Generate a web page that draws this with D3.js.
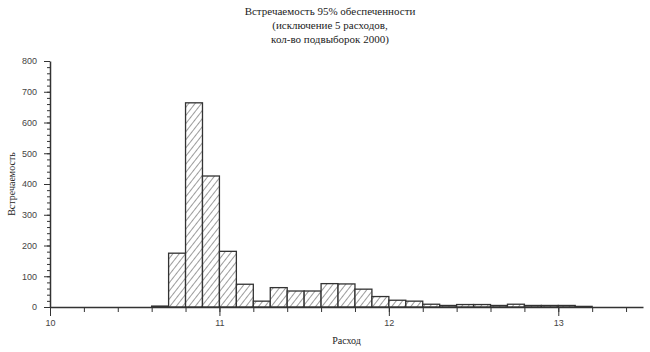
<!DOCTYPE html>
<html>
<head>
<meta charset="utf-8">
<script src="https://cdn.jsdelivr.net/npm/d3@7"></script>
<style>
  body { margin: 0; background: #fff; }
  .axis text { font-family: Arial, "Liberation Sans", sans-serif; font-size: 9px; fill: #444; }
  .axis path, .axis line { stroke: #333; }
  .ttl { font-family: "Liberation Serif", "Times New Roman", serif; font-size: 11px; fill: #222; }
</style>
</head>
<body>
<svg id="chart"></svg>
<script>
// bin starts (width 0.1) and counts
const binStart = [10.0, 10.1, 10.2, 10.3, 10.4, 10.5, 10.6, 10.7, 10.8, 10.9,
                  11.0, 11.1, 11.2, 11.3, 11.4, 11.5, 11.6, 11.7, 11.8, 11.9,
                  12.0, 12.1, 12.2, 12.3, 12.4, 12.5, 12.6, 12.7, 12.8, 12.9,
                  13.0, 13.1, 13.2, 13.3, 13.4];
const counts = [0, 0, 0, 0, 0, 0, 3, 175, 664, 426,
                181, 74, 19, 63, 52, 52, 76, 75, 58, 34,
                22, 19, 9, 5, 8, 8, 5, 9, 5, 5,
                5, 2, 0, 0, 0];
const binWidth = 0.1;
const xTicks = [10, 11, 12, 13];
const yTicks = [0, 100, 200, 300, 400, 500, 600, 700, 800];
const titleLines = ['Встречаемость 95% обеспеченности', '(исключение 5 расходов,', 'кол-во подвыборок 2000)'];

class Histogram {
  constructor(_config, _data) {
    this.config = {
      parentElement: _config.parentElement,
      containerWidth: _config.containerWidth || 650,
      containerHeight: _config.containerHeight || 352,
      margin: { top: 61, bottom: 45, right: 7, left: 50 }
    };
    this.data = _data;
    this.initVis();
  }

  initVis() {
    let vis = this;
    vis.width = vis.config.containerWidth - vis.config.margin.left - vis.config.margin.right;
    vis.height = vis.config.containerHeight - vis.config.margin.top - vis.config.margin.bottom;

    vis.svg = d3.select(vis.config.parentElement)
      .attr('width', vis.config.containerWidth)
      .attr('height', vis.config.containerHeight);

    // hatch fill
    const pat = vis.svg.append('defs').append('pattern')
      .attr('id', 'hatch')
      .attr('patternUnits', 'userSpaceOnUse')
      .attr('width', 5).attr('height', 5)
      .attr('patternTransform', 'rotate(38)');
    pat.append('rect').attr('width', 5).attr('height', 5).attr('fill', '#fff');
    pat.append('line')
      .attr('x1', 0).attr('y1', 0).attr('x2', 0).attr('y2', 5)
      .attr('stroke', '#222').attr('stroke-width', 0.9);

    vis.chart = vis.svg.append('g')
      .attr('transform', `translate(${vis.config.margin.left},${vis.config.margin.top})`);

    vis.xScale = d3.scaleLinear().domain([10, 13.5]).range([0, vis.width]);
    vis.yScale = d3.scaleLinear().domain([0, 800]).range([vis.height, 0]);

    vis.updateVis();
  }

  updateVis() {
    let vis = this;

    // bars
    vis.chart.selectAll('.bar')
      .data(vis.data)
      .join('rect')
      .attr('class', 'bar')
      .attr('x', d => vis.xScale(d.x0))
      .attr('y', d => vis.yScale(d.count))
      .attr('width', d => vis.xScale(d.x0 + binWidth) - vis.xScale(d.x0))
      .attr('height', d => vis.yScale(0) - vis.yScale(d.count))
      .attr('fill', 'url(#hatch)')
      .attr('stroke', '#333')
      .attr('stroke-width', 1.3);

    // y axis minor + major
    vis.chart.append('g')
      .attr('class', 'axis')
      .call(d3.axisLeft(vis.yScale).tickValues(d3.range(0, 801, 20)).tickSize(3).tickFormat(''))
      .call(g => g.select('.domain').remove());
    vis.chart.append('g')
      .attr('class', 'axis')
      .call(d3.axisLeft(vis.yScale).tickValues(yTicks).tickSize(6).tickSizeOuter(0).tickPadding(7))
      .call(g => g.select('.domain').attr('stroke-width', 1.5));

    // x axis minor + major
    vis.chart.append('g')
      .attr('class', 'axis')
      .attr('transform', `translate(0,${vis.height})`)
      .call(d3.axisBottom(vis.xScale).tickValues(d3.range(10, 13.5, 0.2)).tickSize(5).tickFormat(''))
      .call(g => g.select('.domain').remove());
    vis.chart.append('g')
      .attr('class', 'axis')
      .attr('transform', `translate(0,${vis.height})`)
      .call(d3.axisBottom(vis.xScale).tickValues(xTicks).tickSize(9).tickSizeOuter(0).tickPadding(4)
        .tickFormat(d3.format('d')))
      .call(g => g.select('.domain').attr('stroke-width', 1.5));

    // titles
    vis.svg.append('text')
      .attr('class', 'ttl')
      .attr('text-anchor', 'middle')
      .selectAll('tspan')
      .data(titleLines)
      .join('tspan')
      .attr('x', 330)
      .attr('y', (d, i) => 15 + i * 14)
      .text(d => d);

    vis.svg.append('text')
      .attr('class', 'ttl')
      .attr('text-anchor', 'middle')
      .attr('x', vis.config.margin.left + vis.xScale(11.75))
      .attr('y', 344)
      .style('font-size', '10px')
      .text('Расход');

    vis.svg.append('text')
      .attr('class', 'ttl')
      .attr('text-anchor', 'middle')
      .attr('transform', `translate(15,${vis.config.margin.top + vis.yScale(400)}) rotate(-90)`)
      .style('font-size', '10px')
      .text('Встречаемость');
  }
}

const data = binStart.map((x0, i) => ({ x0: x0, count: counts[i] }));
new Histogram({ parentElement: '#chart' }, data);
</script>
</body>
</html>
